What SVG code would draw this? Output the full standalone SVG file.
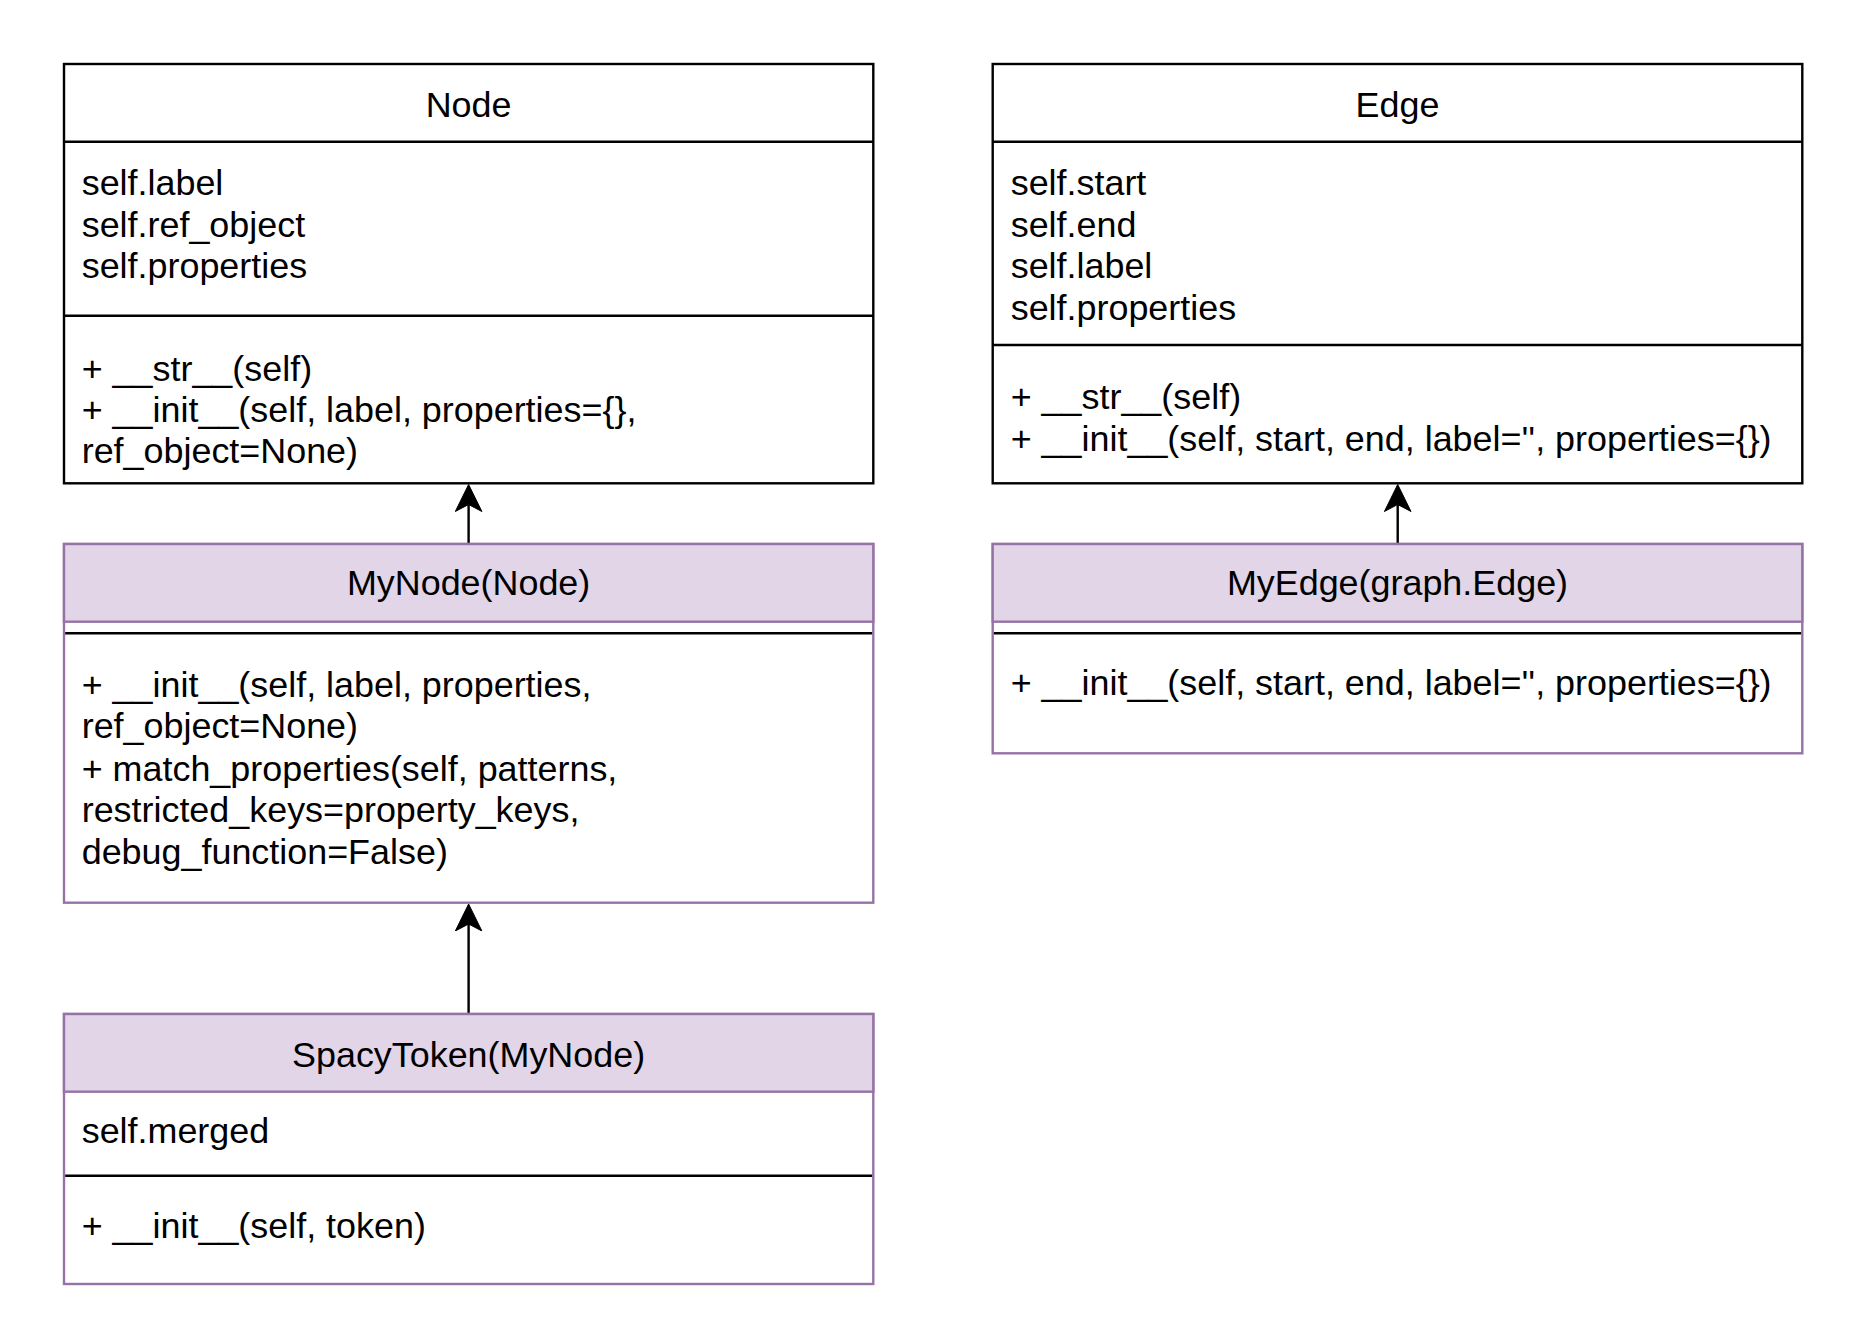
<svg xmlns="http://www.w3.org/2000/svg" width="1866" height="1328" viewBox="0 0 1866 1328">
  <style>
    .t { font-family: "Liberation Sans", Arial, sans-serif; font-size: 35.9px; fill: #000; }
    .c { text-anchor: middle; }
    .box { fill: #fff; stroke: #000; stroke-width: 2.4; }
    .pbox { fill: #fff; stroke: #9673a6; stroke-width: 2.4; }
    .phead { fill: #e1d5e7; stroke: #9673a6; stroke-width: 2.4; }
    .sep { stroke: #000; stroke-width: 2.4; fill: none; }
    .edge { stroke: #000; stroke-width: 2.4; fill: none; marker-end: url(#arr); }
  </style>
  <defs>
    <marker id="arr" viewBox="0 0 28 28" refX="7" refY="14" markerWidth="28" markerHeight="28" markerUnits="userSpaceOnUse" orient="auto">
      <path d="M27,14 L0,0.7 L7,14 L0,27.3 Z" fill="#000" stroke="#000" stroke-width="1"/>
    </marker>
  </defs>
  <rect width="1866" height="1328" fill="#fff"/>

  <g id="node-Node">
    <rect class="box" x="64" y="64" width="809.3" height="419.3"/>
    <line class="sep" x1="64" y1="141.7" x2="873.3" y2="141.7"/>
    <line class="sep" x1="64" y1="315.7" x2="873.3" y2="315.7"/>
    <text class="t c" x="468.6" y="117.3">Node</text>
    <text class="t" x="81.7" y="195">self.label</text>
    <text class="t" x="81.7" y="236.7">self.ref_object</text>
    <text class="t" x="81.7" y="278.3">self.properties</text>
    <text class="t" x="81.7" y="380.5">+ __str__(self)</text>
    <text class="t" x="81.7" y="422">+ __init__(self, label, properties={},</text>
    <text class="t" x="81.7" y="463.3">ref_object=None)</text>
  </g>

  <g id="node-Edge">
    <rect class="box" x="992.7" y="64" width="809.6" height="419.3"/>
    <line class="sep" x1="992.7" y1="141.7" x2="1802.3" y2="141.7"/>
    <line class="sep" x1="992.7" y1="345" x2="1802.3" y2="345"/>
    <text class="t c" x="1397.5" y="117.3">Edge</text>
    <text class="t" x="1010.7" y="195">self.start</text>
    <text class="t" x="1010.7" y="236.7">self.end</text>
    <text class="t" x="1010.7" y="278.3">self.label</text>
    <text class="t" x="1010.7" y="320">self.properties</text>
    <text class="t" x="1010.7" y="408.8">+ __str__(self)</text>
    <text class="t" x="1010.7" y="450.5">+ __init__(self, start, end, label='', properties={})</text>
  </g>

  <g id="node-MyNode">
    <rect class="pbox" x="64" y="544" width="809.3" height="358.7"/>
    <rect class="phead" x="64" y="544" width="809.3" height="77.7"/>
    <line class="sep" x1="65.2" y1="633.3" x2="872.1" y2="633.3"/>
    <text class="t c" x="468.6" y="595">MyNode(Node)</text>
    <text class="t" x="81.7" y="696.7">+ __init__(self, label, properties,</text>
    <text class="t" x="81.7" y="738.4">ref_object=None)</text>
    <text class="t" x="81.7" y="780.6">+ match_properties(self, patterns,</text>
    <text class="t" x="81.7" y="822.3">restricted_keys=property_keys,</text>
    <text class="t" x="81.7" y="863.8">debug_function=False)</text>
  </g>

  <g id="node-MyEdge">
    <rect class="pbox" x="992.7" y="544" width="809.6" height="209.3"/>
    <rect class="phead" x="992.7" y="544" width="809.6" height="77.7"/>
    <line class="sep" x1="993.9" y1="633.3" x2="1801.1" y2="633.3"/>
    <text class="t c" x="1397.5" y="595">MyEdge(graph.Edge)</text>
    <text class="t" x="1010.7" y="695">+ __init__(self, start, end, label='', properties={})</text>
  </g>

  <g id="node-SpacyToken">
    <rect class="pbox" x="64" y="1014" width="809.3" height="270"/>
    <rect class="phead" x="64" y="1014" width="809.3" height="77.7"/>
    <line class="sep" x1="65.2" y1="1175.7" x2="872.1" y2="1175.7"/>
    <text class="t c" x="468.6" y="1066.7">SpacyToken(MyNode)</text>
    <text class="t" x="81.7" y="1143.3">self.merged</text>
    <text class="t" x="81.7" y="1238.3">+ __init__(self, token)</text>
  </g>

  <g id="connectors">
    <line class="edge" x1="468.6" y1="542.8" x2="468.6" y2="504.5"/>
    <line class="edge" x1="1397.7" y1="542.8" x2="1397.7" y2="504.5"/>
    <line class="edge" x1="468.6" y1="1012.8" x2="468.6" y2="924"/>
  </g>
</svg>
